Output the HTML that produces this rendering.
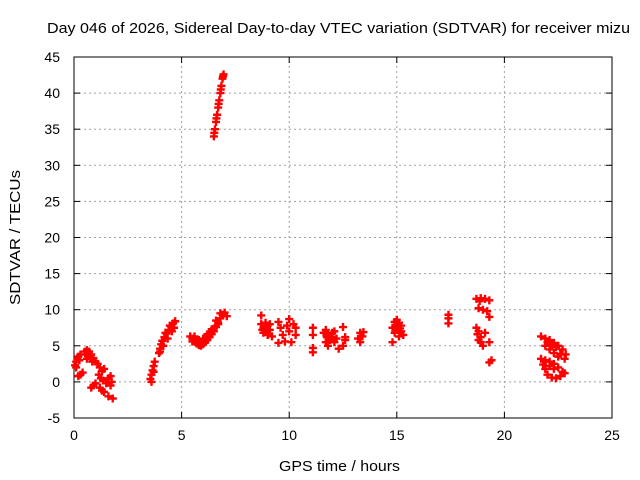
<!DOCTYPE html>
<html><head><meta charset="utf-8"><style>
body{margin:0;background:#fff}
svg{display:block;font-family:"Liberation Sans",sans-serif}
</style></head><body>
<svg id="chart" width="640" height="480" viewBox="0 0 640 480">
<rect width="640" height="480" fill="#fff"/>
<text x="47" y="33" font-size="15" textLength="583" lengthAdjust="spacingAndGlyphs">Day 046 of 2026, Sidereal Day-to-day VTEC variation (SDTVAR) for receiver mizu</text>
<text x="279" y="471" font-size="15" textLength="121" lengthAdjust="spacingAndGlyphs">GPS time / hours</text>
<text x="0" y="0" font-size="15" textLength="135" lengthAdjust="spacingAndGlyphs" transform="translate(20,305) rotate(-90)">SDTVAR / TECUs</text>
<g id="grid"></g>
<g id="axes"></g>
<g id="marks"></g>
</svg>
<script>
const xTicks=[0,5,10,15,20,25];
const yTicks=[-5,0,5,10,15,20,25,30,35,40,45];
const hours=[0.05,0.1,0.15,0.2,0.25,0.1,0.3,0.2,0.3,0.4,
0.5,0.6,0.7,0.8,0.9,1.0,0.65,0.85,0.55,0.75,0.6,
1.1,1.2,1.3,1.15,1.25,1.35,1.4,
0.8,0.9,1.0,1.2,1.3,1.4,1.5,1.6,1.7,1.75,1.6,1.8,1.7,
3.55,3.6,3.65,3.7,3.75,3.6,3.7,
3.95,4.0,4.05,4.1,4.2,4.3,4.4,4.5,4.6,4.7,4.0,4.15,4.35,4.55,4.65,4.25,4.45,
5.4,5.5,5.6,5.7,5.8,5.9,6.0,6.1,6.2,6.3,6.4,6.5,6.6,6.7,6.8,6.9,7.0,5.6,5.8,6.0,6.2,6.4,6.6,6.8,7.1,5.5,5.7,5.9,6.1,6.3,6.5,6.7,
6.5,6.55,6.6,6.65,6.7,6.75,6.8,6.85,6.9,6.95,6.52,6.62,6.72,6.82,6.92,
8.7,8.7,8.8,8.8,8.9,8.9,9.0,9.0,9.1,9.2,9.1,8.75,8.85,8.95,9.05,
9.5,9.6,9.7,9.5,9.8,10.0,10.0,10.2,10.3,10.3,9.9,10.1,
11.1,11.1,11.1,11.1,
11.6,11.7,11.8,11.9,11.7,11.8,12.0,12.1,12.2,12.1,12.5,12.6,12.5,12.3,12.6,11.75,11.9,12.0,
13.2,13.3,13.4,13.3,13.45,
14.8,14.9,15.0,15.1,15.2,15.0,14.9,15.2,15.3,14.8,15.1,14.95,15.05,15.15,
17.4,17.4,17.4,
18.7,18.9,19.1,18.8,19.0,19.2,19.3,19.3,18.7,18.8,18.9,18.9,19.0,19.1,19.3,18.8,19.4,19.3,18.75,18.85,
21.7,21.9,22.1,22.3,22.5,22.7,22.85,22.1,22.3,22.5,21.9,22.6,22.8,22.0,22.2,22.4,
21.7,21.9,22.1,22.3,22.5,22.7,22.8,21.9,22.0,22.2,22.4,22.6,21.8,22.1,22.3];
const sdtvar=[2.3,2.8,3.2,3.5,3.0,2.0,3.8,0.8,1.0,1.3,
4.2,4.4,4.2,3.8,3.3,2.8,3.6,2.8,3.8,3.4,3.2,
2.5,2.0,1.5,1.0,0.5,0.2,1.8,
-0.8,-0.5,-0.2,-0.8,-1.2,-1.4,-0.2,0.5,0.8,0.0,-2.0,-2.3,-0.5,
0.4,1.0,1.6,2.2,2.8,0.0,1.4,
4.0,4.6,5.2,5.7,6.2,6.7,7.2,7.7,8.1,8.4,4.2,5.0,6.0,7.0,7.5,6.8,7.8,
6.3,6.0,5.6,5.3,5.1,5.0,5.2,5.5,5.8,6.2,6.6,7.0,7.6,8.2,8.8,9.3,9.6,6.3,5.8,6.0,6.6,7.3,8.5,9.5,9.1,5.6,5.6,5.5,6.0,6.8,7.4,8.0,
34,35,36,37,38,39,40,41,42,42.6,34.5,36.5,38.5,40.5,42.3,
9.2,8.0,7.5,6.8,8.2,7.0,6.5,7.8,7.2,6.3,8.0,7.2,7.6,7.4,7.2,
8.3,7.5,6.5,5.4,5.6,8.7,7.0,8.0,7.5,6.5,7.8,5.5,
7.5,6.5,4.7,4.1,
6.8,7.2,6.5,6.0,5.5,5.0,6.8,5.5,6.0,7.0,7.6,6.2,5.0,4.6,5.8,6.2,5.8,6.2,
6.0,6.8,6.3,5.5,6.9,
7.5,8.3,8.6,8.2,7.8,7.3,6.8,7.0,6.5,5.5,6.3,7.8,7.6,7.4,
9.3,8.8,8.1,
11.5,11.6,11.5,10.2,10.0,9.8,11.3,9.0,7.5,7.0,6.2,5.5,5.0,6.8,5.5,5.8,3.0,2.7,6.6,11.2,
6.3,6.0,5.8,5.4,5.0,4.5,3.8,4.5,4.0,3.5,5.0,3.8,3.2,5.5,5.2,4.8,
3.2,3.0,2.8,2.5,2.0,1.4,1.2,1.8,1.0,0.6,0.5,0.8,2.4,2.2,1.8];
const X0=74,X1=612,Y0=418,Y1=57,xmin=0,xmax=25,ymin=-5,ymax=45;
function sx(v){return X0+(v-xmin)/(xmax-xmin)*(X1-X0);}
function sy(v){return Y0-(v-ymin)/(ymax-ymin)*(Y0-Y1);}
const NS='http://www.w3.org/2000/svg';
const grid=document.getElementById('grid'),axes=document.getElementById('axes'),marks=document.getElementById('marks');
function mk(tag,attrs,parent){const e=document.createElementNS(NS,tag);for(const k in attrs)e.setAttribute(k,attrs[k]);parent.appendChild(e);return e;}
xTicks.forEach(t=>{const x=sx(t);
 if(t>xmin&&t<xmax){const g=mk('line',{x1:x,y1:Y0,x2:x,y2:Y1,stroke:'#a0a0a0','stroke-dasharray':'2,3'},grid);
 
 }
 mk('line',{x1:x,y1:Y0,x2:x,y2:Y0-6,stroke:'#000'},axes);
 mk('line',{x1:x,y1:Y1,x2:x,y2:Y1+6,stroke:'#000'},axes);
 const l=mk('text',{x:x,y:Y0+22,'font-size':'14','text-anchor':'middle'},axes);l.textContent=t;
 
 
});
yTicks.forEach(t=>{const y=sy(t);
 if(t>ymin&&t<ymax){const g=mk('line',{x1:X0,y1:y,x2:X1,y2:y,stroke:'#a0a0a0','stroke-dasharray':'2,3'},grid);
 
 }
 mk('line',{x1:X0,y1:y,x2:X0+6,y2:y,stroke:'#000'},axes);
 mk('line',{x1:X1,y1:y,x2:X1-6,y2:y,stroke:'#000'},axes);
 const l=mk('text',{x:X0-14,y:y+5,'font-size':'14','text-anchor':'end'},axes);l.textContent=t;
 
 
});
const fr=mk('rect',{x:X0,y:Y1,width:X1-X0,height:Y0-Y1,fill:'none',stroke:'#000'},axes);


hours.forEach((h,i)=>{const x=sx(h),y=sy(sdtvar[i]);
 const p=mk('path',{d:`M${x-4},${y}H${x+4}M${x},${y-4}V${y+4}`,stroke:'#f00','stroke-width':'2.4'},marks);
 
 
});
</script>
</body></html>
